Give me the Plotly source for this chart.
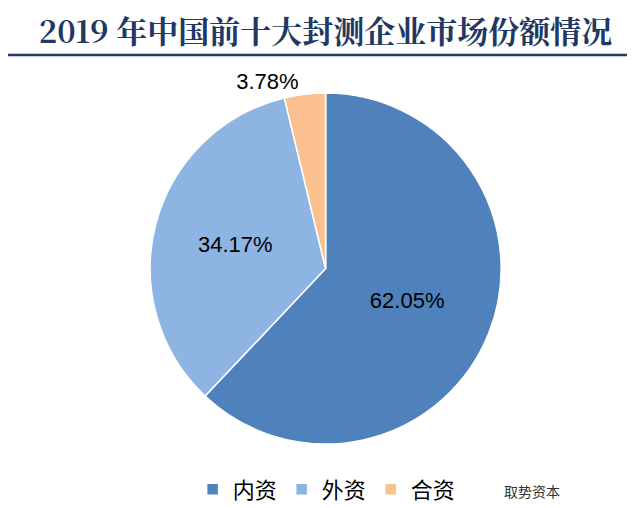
import plotly.graph_objects as go

labels = ["内资", "外资", "合资"]
values = [62.05, 34.17, 3.78]
colors = ["#4F81BD", "#8EB4E3", "#FAC090"]
positions = ["inside", "inside", "outside"]

fig = go.Figure(go.Pie(
    labels=labels, values=values, sort=False, direction="clockwise", rotation=0,
    marker=dict(colors=colors, line=dict(color="white", width=1.5)),
    texttemplate="%{value:.2f}%", textposition=positions,
    textfont=dict(family="Liberation Sans, Arial", size=22, color="black"),
    insidetextorientation="horizontal",
    domain=dict(x=[0.036, 1], y=[0, 1]),
))
fig.update_layout(
    width=635, height=508, paper_bgcolor="white",
    margin=dict(l=0, r=0, t=85, b=72),
    showlegend=True,
    title=dict(text="<b>2019 年中国前十大封测企业市场份额情况</b>", x=0.5, xanchor="center",
               y=0.952, yanchor="middle", yref="container",
               font=dict(family="Noto Serif CJK SC, Noto Sans CJK SC", size=31, color="#1F3864")),
    legend=dict(orientation="h", x=0.52, xanchor="center", y=-0.07, yanchor="top",
                font=dict(family="Noto Sans CJK SC", size=22, color="black")),
    annotations=[
        dict(text="取势资本", x=0.985, xanchor="right", y=-0.134, yanchor="middle", xref="paper", yref="paper",
             showarrow=False, font=dict(family="Noto Sans CJK SC", size=14, color="#333")),
    ],
    shapes=[dict(type="line", xref="paper", yref="paper", x0=-0.15, x1=1.15, y0=1.108, y1=1.108,
                 line=dict(color="#1F3864", width=2.5))],
)
fig.write_html("out.html")
